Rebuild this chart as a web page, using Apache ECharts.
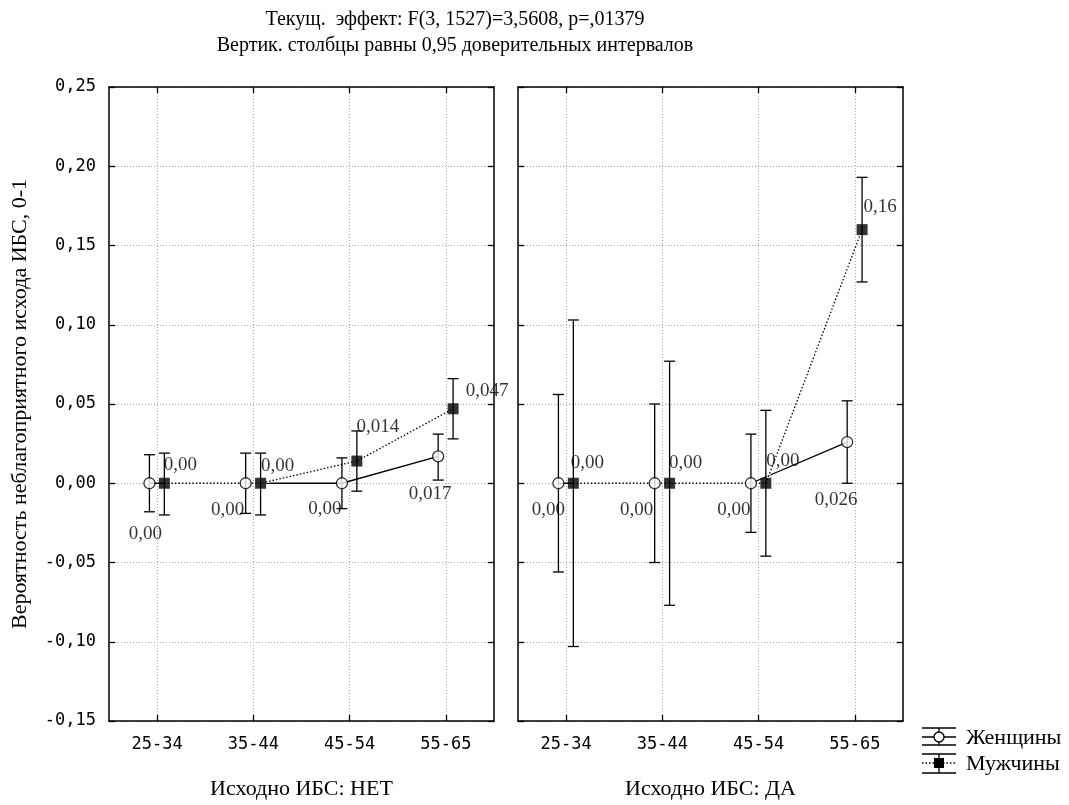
<!DOCTYPE html>
<html>
<head>
<meta charset="utf-8">
<script src="https://cdn.jsdelivr.net/npm/echarts@6/dist/echarts.min.js"></script>
<style>
    html, body {margin: 0; padding: 0; background: #fff;}
    #chart {width: 1069px; height: 805px;}
</style>
</head>
<body>
<div id="chart"></div>
<script>
//数据
var categories = ['25-34', '35-44', '45-54', '55-65'];
var yTicks = [-0.15, -0.10, -0.05, 0.00, 0.05, 0.10, 0.15, 0.20, 0.25];
var panelNames = ['Исходно ИБС: НЕТ', 'Исходно ИБС: ДА'];
var seriesNames = ['Женщины', 'Мужчины'];

//Исходно ИБС: НЕТ
var noWomenMean = [0, 0, 0, 0.017];
var noWomenLow = [-0.018, -0.019, -0.016, 0.002];
var noWomenHigh = [0.018, 0.019, 0.016, 0.031];
var noWomenLabels = ['0,00', '0,00', '0,00', '0,017'];
var noMenMean = [0, 0, 0.014, 0.047];
var noMenLow = [-0.020, -0.020, -0.005, 0.028];
var noMenHigh = [0.019, 0.019, 0.033, 0.066];
var noMenLabels = ['0,00', '0,00', '0,014', '0,047'];

//Исходно ИБС: ДА
var yesWomenMean = [0, 0, 0, 0.026];
var yesWomenLow = [-0.056, -0.050, -0.031, 0.000];
var yesWomenHigh = [0.056, 0.050, 0.031, 0.052];
var yesWomenLabels = ['0,00', '0,00', '0,00', '0,026'];
var yesMenMean = [0, 0, 0, 0.16];
var yesMenLow = [-0.103, -0.077, -0.046, 0.127];
var yesMenHigh = [0.103, 0.077, 0.046, 0.193];
var yesMenLabels = ['0,00', '0,00', '0,00', '0,16'];

//样式
var serif = '"Liberation Serif", "Times New Roman", serif';
var mono = '"DejaVu Sans Mono", monospace';
var womenShift = -0.08, menShift = 0.075;
var labelOffsets = [
    {women: [[-4, 51], [-18, 27], [-17, 26], [-8, 38]], men: [[16, -18], [17, -17], [21, -34], [34, -18]]},
    {women: [[-10, 27], [-18, 27], [-17, 27], [-11, 58]], men: [[14, -20], [16, -20], [17, -22], [18, -23]]}
];
var panels = [
    {women: [noWomenMean, noWomenLow, noWomenHigh, noWomenLabels], men: [noMenMean, noMenLow, noMenHigh, noMenLabels]},
    {women: [yesWomenMean, yesWomenLow, yesWomenHigh, yesWomenLabels], men: [yesMenMean, yesMenLow, yesMenHigh, yesMenLabels]}
];
var gridLeft = [109, 518];

function fmt(v) {
    return v.toFixed(2).replace('.', ',');
}

function renderErrorBar(params, api) {
    var x = api.value(0);
    var lo = api.coord([x, api.value(1)]);
    var hi = api.coord([x, api.value(2)]);
    var hw = 5.5, st = {stroke: '#000', lineWidth: 1.3};
    return {
        type: 'group',
        children: [
            {type: 'line', shape: {x1: lo[0], y1: lo[1], x2: hi[0], y2: hi[1]}, style: st},
            {type: 'line', shape: {x1: hi[0] - hw, y1: hi[1], x2: hi[0] + hw, y2: hi[1]}, style: st},
            {type: 'line', shape: {x1: lo[0] - hw, y1: lo[1], x2: lo[0] + hw, y2: lo[1]}, style: st}
        ]
    };
}

var grids = [], xAxes = [], yAxes = [], series = [];
var frameLine = {show: true, onZero: false, lineStyle: {color: '#000', width: 1.5}};
var gridLine = {show: true, lineStyle: {color: '#a8a8a8', type: [1, 2], width: 1}};

panels.forEach(function (panel, p) {
    grids.push({left: gridLeft[p], top: 87, width: 385, height: 636});
    var xBase = {type: 'value', gridIndex: p, min: 0.5, max: 4.5, axisLine: frameLine};
    xAxes.push(Object.assign({}, xBase, {
        position: 'bottom',
        name: panelNames[p], nameLocation: 'middle', nameGap: 57,
        nameTextStyle: {fontFamily: serif, fontSize: 22, color: '#000'},
        axisTick: {inside: true, length: 6, customValues: [1, 2, 3, 4], lineStyle: {color: '#000', width: 1.3}},
        axisLabel: {
            customValues: [1, 2, 3, 4], margin: 15, fontFamily: mono, fontSize: 17, color: '#000',
            formatter: function (v) { return categories[Math.round(v) - 1]; }
        },
        splitLine: gridLine
    }));
    xAxes.push(Object.assign({}, xBase, {
        position: 'top',
        axisTick: {inside: true, length: 6, customValues: [1, 2, 3, 4], lineStyle: {color: '#000', width: 1.3}},
        axisLabel: {show: false},
        splitLine: {show: false}
    }));
    var yBase = {
        type: 'value', gridIndex: p, min: yTicks[0], max: yTicks[yTicks.length - 1], interval: 0.05,
        axisLine: frameLine,
        axisTick: {inside: true, length: 6, lineStyle: {color: '#000', width: 1.3}}
    };
    yAxes.push(Object.assign({}, yBase, {
        position: 'left',
        name: p === 0 ? 'Вероятность неблагоприятного исхода ИБС, 0-1' : '',
        nameLocation: 'middle', nameGap: 78, nameRotate: 90,
        nameTextStyle: {fontFamily: serif, fontSize: 22, color: '#000'},
        axisLabel: {show: p === 0, margin: 13, fontFamily: mono, fontSize: 17, color: '#000', formatter: fmt},
        splitLine: gridLine
    }));
    yAxes.push(Object.assign({}, yBase, {
        position: 'right',
        axisLabel: {show: false},
        splitLine: {show: false}
    }));

    var ax = {xAxisIndex: p * 2, yAxisIndex: p * 2};
    var wPts = panel.women[0].map(function (v, i) { return [i + 1 + womenShift, v]; });
    var mPts = panel.men[0].map(function (v, i) { return [i + 1 + menShift, v]; });

    //连线
    series.push(Object.assign({
        type: 'line', name: seriesNames[0], data: wPts, showSymbol: false, z: 2, silent: true,
        lineStyle: {color: '#000', width: 1.3}
    }, ax));
    series.push(Object.assign({
        type: 'line', data: mPts, showSymbol: false, z: 3, silent: true,
        lineStyle: {color: '#fff', width: 2.5}
    }, ax));
    series.push(Object.assign({
        type: 'line', name: seriesNames[1], data: mPts, showSymbol: false, z: 4, silent: true,
        lineStyle: {color: '#000', width: 1.3, type: [1.5, 2]}
    }, ax));

    //误差线
    series.push(Object.assign({
        type: 'custom', z: 5, renderItem: renderErrorBar,
        data: panel.women[0].map(function (v, i) { return [i + 1 + womenShift, panel.women[1][i], panel.women[2][i]]; })
    }, ax));
    series.push(Object.assign({
        type: 'custom', z: 5, renderItem: renderErrorBar,
        data: panel.men[0].map(function (v, i) { return [i + 1 + menShift, panel.men[1][i], panel.men[2][i]]; })
    }, ax));

    //标记点
    var labelBase = {show: true, position: 'inside', fontFamily: serif, fontSize: 19, color: '#000'};
    series.push(Object.assign({
        type: 'scatter', z: 6, symbol: 'circle', symbolSize: 11, clip: false,
        itemStyle: {color: '#fff', borderColor: '#000', borderWidth: 1.3},
        data: wPts.map(function (pt, i) {
            return {value: pt, label: Object.assign({}, labelBase, {formatter: panel.women[3][i], offset: labelOffsets[p].women[i]})};
        })
    }, ax));
    series.push(Object.assign({
        type: 'scatter', z: 6, symbol: 'rect', symbolSize: 11, clip: false,
        itemStyle: {color: '#000'},
        data: mPts.map(function (pt, i) {
            return {value: pt, label: Object.assign({}, labelBase, {formatter: panel.men[3][i], offset: labelOffsets[p].men[i]})};
        })
    }, ax));
});

//图例
var lg = {stroke: '#000', lineWidth: 1.3};
var legendGraphic = {
    type: 'group',
    children: [
        {type: 'line', shape: {x1: 922, y1: 728, x2: 956, y2: 728}, style: lg},
        {type: 'line', shape: {x1: 922, y1: 745, x2: 956, y2: 745}, style: lg},
        {type: 'line', shape: {x1: 939, y1: 728, x2: 939, y2: 745}, style: lg},
        {type: 'line', shape: {x1: 922, y1: 737, x2: 956, y2: 737}, style: lg},
        {type: 'circle', shape: {cx: 939, cy: 737, r: 5}, style: {fill: '#fff', stroke: '#000', lineWidth: 1.3}},
        {type: 'text', x: 966, y: 738, style: {text: seriesNames[0], font: '22px ' + serif, fill: '#000', verticalAlign: 'middle'}},
        {type: 'line', shape: {x1: 922, y1: 754, x2: 956, y2: 754}, style: lg},
        {type: 'line', shape: {x1: 922, y1: 773, x2: 956, y2: 773}, style: lg},
        {type: 'line', shape: {x1: 939, y1: 754, x2: 939, y2: 773}, style: lg},
        {type: 'line', shape: {x1: 922, y1: 763, x2: 956, y2: 763}, style: {stroke: '#000', lineWidth: 1.3, lineDash: [1.5, 2]}},
        {type: 'rect', shape: {x: 934, y: 758, width: 10, height: 10}, style: {fill: '#000'}},
        {type: 'text', x: 966, y: 764, style: {text: seriesNames[1], font: '22px ' + serif, fill: '#000', verticalAlign: 'middle'}}
    ]
};

var chart = echarts.init(document.getElementById('chart'));
chart.setOption({
    backgroundColor: '#fff',
    animation: false,
    title: [
        {text: 'Текущ.  эффект: F(3, 1527)=3,5608, p=,01379', left: 450, top: 5, textAlign: 'center',
            textStyle: {fontFamily: serif, fontSize: 20, fontWeight: 'normal', color: '#000'}},
        {text: 'Вертик. столбцы равны 0,95 доверительных интервалов', left: 450, top: 31, textAlign: 'center',
            textStyle: {fontFamily: serif, fontSize: 20, fontWeight: 'normal', color: '#000'}}
    ],
    grid: grids,
    xAxis: xAxes,
    yAxis: yAxes,
    series: series,
    graphic: [legendGraphic]
});
</script>
</body>
</html>
